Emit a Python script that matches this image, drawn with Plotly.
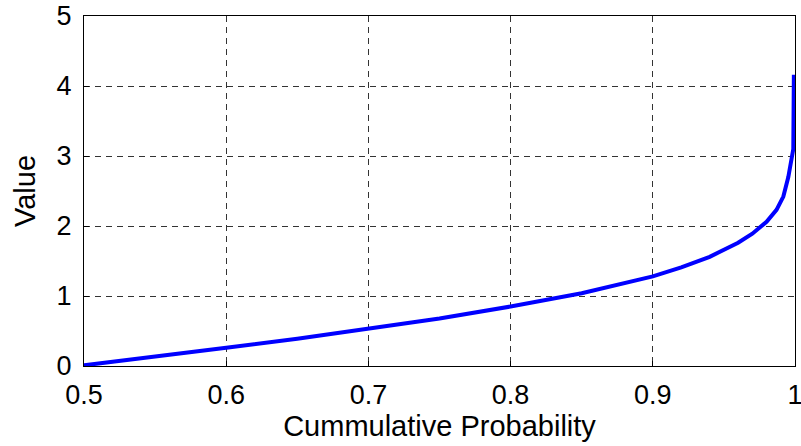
import plotly.graph_objects as go

# Empirical quantile curve: cumulative probability vs. value
probability = [0.5, 0.55, 0.6, 0.65, 0.7, 0.75, 0.8, 0.85, 0.9, 0.92, 0.94,
               0.96, 0.97, 0.98, 0.987, 0.9918, 0.9953, 0.9976, 0.9988, 0.9992]
value = [0.01, 0.13, 0.26, 0.39, 0.53, 0.68, 0.85, 1.04, 1.28, 1.41, 1.56,
         1.76, 1.89, 2.06, 2.23, 2.42, 2.70, 2.99, 3.10, 4.16]

x_ticks = [0.5, 0.6, 0.7, 0.8, 0.9, 1.0]
x_tick_text = ["0.5", "0.6", "0.7", "0.8", "0.9", "1"]
y_ticks = [0, 1, 2, 3, 4, 5]
y_tick_text = ["0", "1", "2", "3", "4", "5"]

FONT = "Liberation Sans, Arial, sans-serif"

fig = go.Figure(
    go.Scatter(
        x=probability,
        y=value,
        mode="lines",
        line=dict(color="#0000FF", width=4),
        showlegend=False,
        hoverinfo="skip",
    )
)

axis_common = dict(
    showline=True,
    linecolor="black",
    linewidth=1.3,
    mirror=True,
    ticks="inside",
    ticklen=5,
    tickcolor="black",
    showgrid=True,
    gridcolor="#333333",
    gridwidth=1,
    griddash="6px,5px",
    zeroline=False,
    automargin=False,
    ticklabeloverflow="allow",
    tickfont=dict(family=FONT, size=27, color="black"),
)

fig.update_xaxes(
    range=[0.5, 1.0],
    tickvals=x_ticks,
    ticktext=x_tick_text,
    ticklabelstandoff=4,
    title=dict(text="Cummulative Probability", font=dict(family=FONT, size=29, color="black"), standoff=4),
    **axis_common,
)
fig.update_yaxes(
    range=[0, 5],
    tickvals=y_ticks,
    ticktext=y_tick_text,
    ticklabelstandoff=6,
    title=dict(text="Value", font=dict(family=FONT, size=29, color="black"), standoff=12),
    **axis_common,
)

fig.update_layout(
    width=801,
    height=446,
    margin=dict(l=84, r=6, t=16, b=80),
    paper_bgcolor="white",
    plot_bgcolor="white",
)

fig.write_html("out.html")
